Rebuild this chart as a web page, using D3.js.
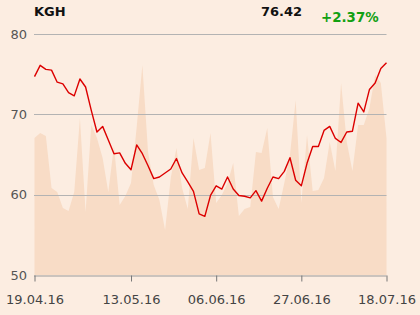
<!DOCTYPE html>
<html>
<head>
<meta charset="utf-8">
<script src="https://cdn.jsdelivr.net/npm/d3@7"></script>
<style>
  body { margin: 0; background: #fcede1; }
  svg { display: block; font-family: "DejaVu Sans", sans-serif; }
</style>
</head>
<body>
<div id="viz"></div>
<script>
var width = 420;
var height = 315;

var ticker = "KGH";
var lastPrice = "76.42";
var change = "+2.37%";

// trading days (03.05 and 26.05 are holidays)
var dates = [
  "19.04.16", "20.04.16", "21.04.16", "22.04.16", "25.04.16", "26.04.16", "27.04.16", "28.04.16", "29.04.16",
  "02.05.16", "04.05.16", "05.05.16", "06.05.16", "09.05.16", "10.05.16", "11.05.16", "12.05.16", "13.05.16",
  "16.05.16", "17.05.16", "18.05.16", "19.05.16", "20.05.16", "23.05.16", "24.05.16", "25.05.16", "27.05.16",
  "30.05.16", "31.05.16", "01.06.16", "02.06.16", "03.06.16", "06.06.16", "07.06.16", "08.06.16", "09.06.16",
  "10.06.16", "13.06.16", "14.06.16", "15.06.16", "16.06.16", "17.06.16", "20.06.16", "21.06.16", "22.06.16",
  "23.06.16", "24.06.16", "27.06.16", "28.06.16", "29.06.16", "30.06.16", "01.07.16", "04.07.16", "05.07.16",
  "06.07.16", "07.07.16", "08.07.16", "11.07.16", "12.07.16", "13.07.16", "14.07.16", "15.07.16", "18.07.16"
];

var prices = [
  74.7, 76.1, 75.6, 75.5, 74.0, 73.8, 72.7, 72.3, 74.4,
  73.4, 70.5, 67.8, 68.5, 66.8, 65.1, 65.2, 63.9, 63.1,
  66.2, 65.1, 63.6, 62.0, 62.2, 62.7, 63.2, 64.5, 62.7,
  61.6, 60.4, 57.6, 57.3, 59.9, 61.1, 60.7, 62.2, 60.7,
  59.9, 59.8, 59.6, 60.5, 59.2, 60.8, 62.2, 62.0, 62.9,
  64.6, 61.8, 61.1, 63.9, 66.0, 66.0, 68.0, 68.5, 67.0,
  66.5, 67.8, 67.9, 71.4, 70.3, 73.1, 73.9, 75.7, 76.42
];

// volume, thousands of shares
var volumes = [
  1370, 1420, 1390, 870, 830, 670, 640, 830, 1570,
  630, 1500, 1370, 1170, 830, 1290, 700, 790, 920,
  1480, 2100, 1230, 900, 750, 450, 970, 1270, 870,
  660, 1370, 1050, 1070, 1420, 720, 800, 920, 1120,
  590, 660, 680, 1230, 1220, 1470, 780, 660, 920,
  1200, 1750, 720, 1400, 840, 850, 970, 1330, 1040,
  1920, 1330, 1040, 1500, 1500, 1670, 2000, 1920, 1370
];

var yTicks = [50, 60, 70, 80];
var xTicks = ["19.04.16", "13.05.16", "06.06.16", "27.06.16", "18.07.16"];

var svg = d3.select("#viz")
    .append("svg")
    .attr("width", width)
    .attr("height", height);

var x = d3.scalePoint()
    .domain(dates)
    .range([34.5, 386.5]);

var y = d3.scaleLinear()
    .domain([50, 80])
    .range([275, 34]);

var yVol = d3.scaleLinear()
    .domain([0, 2410])
    .range([275, 34]);

// volume area in the background
var area = d3.area()
    .x(function(d, i) { return x(dates[i]); })
    .y0(yVol(0))
    .y1(function(d) { return yVol(d); });

svg.append("path")
    .datum(volumes)
    .attr("d", area)
    .attr("fill", "#f8dcc6");

// grid lines
svg.selectAll("line.grid")
    .data(yTicks.filter(function(d) { return d > 50; }))
    .enter()
    .append("line")
    .attr("class", "grid")
    .attr("x1", 34)
    .attr("x2", 386.5)
    .attr("y1", function(d) { return Math.round(y(d)) + 0.5; })
    .attr("y2", function(d) { return Math.round(y(d)) + 0.5; })
    .attr("stroke", "#b3b3b3")
    .attr("stroke-width", 1);

svg.selectAll("text.ylab")
    .data(yTicks)
    .enter()
    .append("text")
    .attr("class", "ylab")
    .attr("x", 27)
    .attr("y", function(d) { return y(d); })
    .attr("dy", "0.36em")
    .attr("text-anchor", "end")
    .attr("font-size", 13)
    .attr("fill", "#555")
    .text(function(d) { return d; });

// x axis
var xAxis = svg.append("g")
    .attr("transform", "translate(0," + 275.5 + ")")
    .call(d3.axisBottom(x).tickValues(xTicks).tickSize(6).tickSizeOuter(0).tickPadding(13));

xAxis.select(".domain").attr("stroke", "#999").attr("d", "M34,0.5H386.5");
xAxis.selectAll(".tick line").attr("stroke", "#777");
xAxis.selectAll(".tick text")
    .attr("font-size", 13)
    .attr("font-family", "DejaVu Sans, sans-serif")
    .attr("fill", "#444");

// price line
var line = d3.line()
    .x(function(d, i) { return x(dates[i]); })
    .y(function(d) { return y(d); });

svg.append("path")
    .datum(prices)
    .attr("d", line)
    .attr("fill", "none")
    .attr("stroke", "#dc0000")
    .attr("stroke-width", 1.4)
    .attr("stroke-linejoin", "round");

// header
svg.append("text")
    .attr("x", 34)
    .attr("y", 15.5)
    .attr("font-size", 13)
    .attr("font-weight", "bold")
    .attr("fill", "#111")
    .text(ticker);

svg.append("text")
    .attr("x", 302)
    .attr("y", 15.5)
    .attr("text-anchor", "end")
    .attr("font-size", 13)
    .attr("font-weight", "bold")
    .attr("fill", "#111")
    .text(lastPrice);

svg.append("text")
    .attr("x", 321)
    .attr("y", 22)
    .attr("font-size", 13.4)
    .attr("font-weight", "bold")
    .attr("fill", "#12a012")
    .text(change);
</script>
</body>
</html>
